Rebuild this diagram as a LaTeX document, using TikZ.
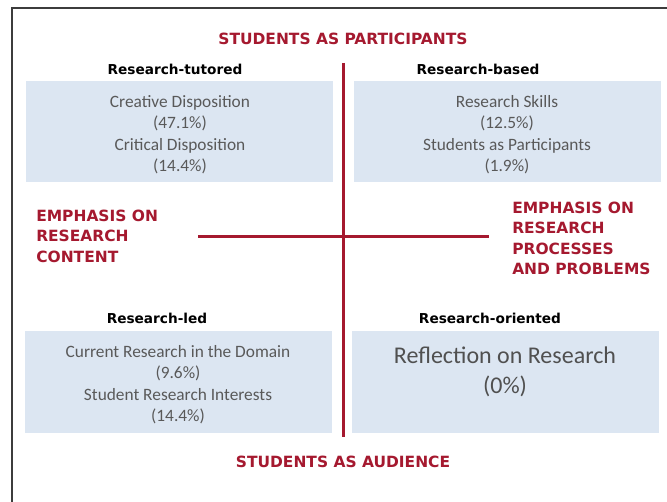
\documentclass[tikz,border=0pt]{standalone}
\usepackage{fontspec}
\setmainfont{Carlito}
\newfontfamily\headfont{DejaVu Sans}
\definecolor{crim}{HTML}{A5192F}
\definecolor{boxblue}{HTML}{DCE6F2}
\definecolor{txtgray}{HTML}{595959}
\definecolor{framegray}{HTML}{3C3C3C}
\tikzset{
  quad/.style={fill=boxblue, draw=none},
  axisline/.style={draw=crim, line width=2.25pt},
  frameline/.style={draw=framegray, line width=1.3pt},
  redhead/.style={font=\headfont\bfseries\fontsize{11.6}{15.4}\selectfont, text=crim, inner sep=0pt},
  subhead/.style={font=\headfont\bfseries\fontsize{10.25}{13}\selectfont, text=black, inner sep=0pt},
  bodytext/.style={font=\fontsize{13}{16.1}\selectfont, text=txtgray, align=center, inner sep=0pt},
  bigtext/.style={font=\fontsize{18}{22.5}\selectfont, text=txtgray!90!black, align=center, inner sep=0pt},
}
\begin{document}
\begin{tikzpicture}[x=0.75pt,y=-0.75pt]
\useasboundingbox (0,0) rectangle (667,502);
\fill[white] (0,0) rectangle (667,502);
% frame
\coordinate (ftl) at (12,8);
\coordinate (ftr) at (667,8);
\coordinate (fbl) at (12,502);
\draw[frameline] (ftr) -- (ftl) -- (fbl);
% quadrant boxes
\path[quad] (26,81) rectangle (333,182);
\path[quad] (354,81) rectangle (661,182);
\path[quad] (25,331) rectangle (332,433);
\path[quad] (352,331) rectangle (659,433);
% axes
\coordinate (vtop) at (343,63);
\coordinate (vbot) at (343,437);
\coordinate (hleft) at (198,237);
\coordinate (hright) at (489,237);
\draw[axisline] (vtop) -- (vbot);
\draw[axisline] (hleft) -- (hright);
% titles
\node[redhead] (ttop) at (343,39) {STUDENTS AS PARTICIPANTS};
\node[redhead] (tbot) at (343,462) {STUDENTS AS AUDIENCE};
\node[redhead, anchor=north west, align=left] (tleft) at (36,209.5) {EMPHASIS ON\\RESEARCH\\CONTENT};
\node[redhead, anchor=north west, align=left] (tright) at (512,201.5) {EMPHASIS ON\\RESEARCH\\PROCESSES\\AND PROBLEMS};
% sub headers
\node[subhead] (stl) at (175,69) {Research-tutored};
\node[subhead] (str) at (478,69) {Research-based};
\node[subhead] (sbl) at (157,318) {Research-led};
\node[subhead] (sbr) at (490,318) {Research-oriented};
% body
\node[bodytext] (btl) at (180,134.5) {Creative Disposition\\(47.1\%)\\Critical Disposition\\(14.4\%)};
\node[bodytext] (btr) at (507,134.5) {Research Skills\\(12.5\%)\\Students as Participants\\(1.9\%)};
\node[bodytext] (bbl) at (178,384.5) {Current Research in the Domain\\(9.6\%)\\Student Research Interests\\(14.4\%)};
\node[bigtext] (bbr) at (505,372) {Reflection on Research\\(0\%)};
\end{tikzpicture}
\end{document}
